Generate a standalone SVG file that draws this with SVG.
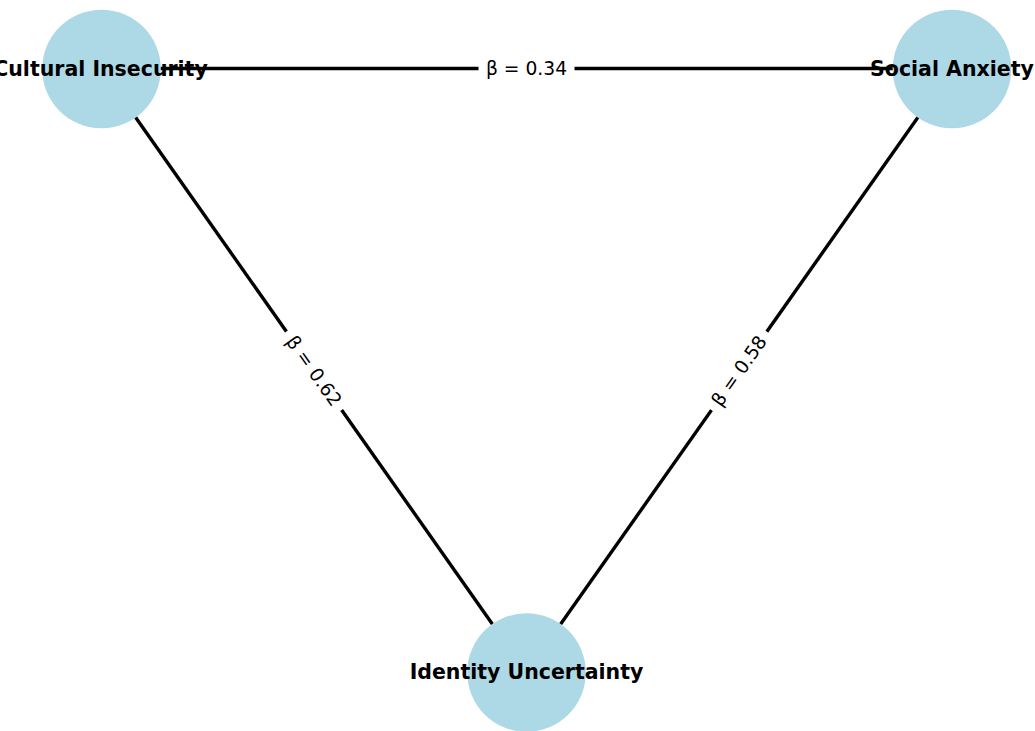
<svg xmlns="http://www.w3.org/2000/svg" width="1035" height="731" viewBox="0 0 1035 731">
  <style>
    .node circle { fill: #add8e6; }
    .node text { font-family: "DejaVu Sans", sans-serif; font-size: 20.5px; font-weight: bold; fill: #000; text-anchor: middle; dominant-baseline: central; }
    .edge { stroke: #000; stroke-width: 3.4; fill: none; }
    .elabel rect { fill: #fff; }
    .elabel text { font-family: "DejaVu Sans", sans-serif; font-size: 18.7px; fill: #000; text-anchor: middle; dominant-baseline: central; }
  </style>
  <rect width="1035" height="731" fill="#fff"/>
  <g id="node-cultural-insecurity" class="node">
    <circle cx="101.5" cy="69" r="59.3"/>
    <text x="100.5" y="68.5">Cultural Insecurity</text>
  </g>
  <g id="node-social-anxiety" class="node">
    <circle cx="952" cy="69" r="59.3"/>
    <text x="952" y="68.5">Social Anxiety</text>
  </g>
  <g id="node-identity-uncertainty" class="node">
    <circle cx="526.5" cy="672.5" r="59.3"/>
    <text x="526.5" y="672">Identity Uncertainty</text>
  </g>
  <g id="connectors">
    <line class="edge" x1="160.8" y1="68.5" x2="892.7" y2="68.5"/>
    <line class="edge" x1="135.7" y1="117.5" x2="492.3" y2="624"/>
    <line class="edge" x1="917.8" y1="117.5" x2="560.7" y2="624"/>
    <g class="elabel" transform="translate(526.5,68.5)">
      <rect x="-48" y="-14" width="96" height="28"/>
      <text x="0" y="0">β = 0.34</text>
    </g>
    <g class="elabel" transform="translate(314,370.8) rotate(54.8)">
      <rect x="-48" y="-14" width="96" height="28"/>
      <text x="0" y="0">β = 0.62</text>
    </g>
    <g class="elabel" transform="translate(739,370.8) rotate(-54.8)">
      <rect x="-48" y="-14" width="96" height="28"/>
      <text x="0" y="0">β = 0.58</text>
    </g>
  </g>
</svg>
